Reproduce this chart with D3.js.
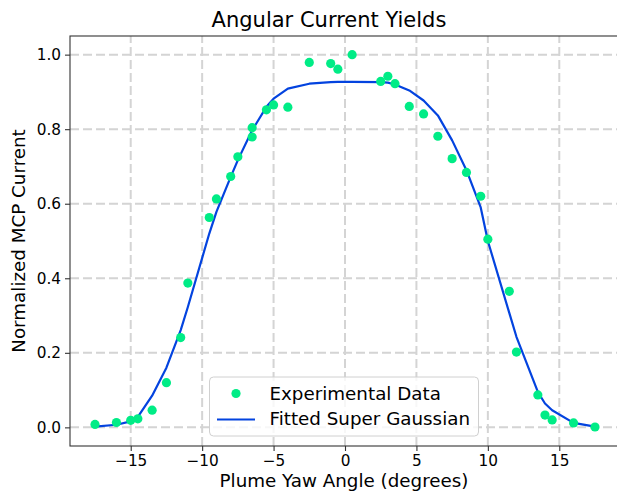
<!DOCTYPE html>
<html>
<head>
<meta charset="utf-8">
<script src="https://cdn.jsdelivr.net/npm/d3@7"></script>
<style>
    body { margin: 0; background: #fff; }
    text { font-family: "DejaVu Sans", sans-serif; fill: #000; }
</style>
</head>
<body>
<div id="chart-area"></div>
<script>

// measured points (yaw angle in degrees, normalized MCP current)
let angles = [-17.5, -16, -15, -14.5, -13.5, -12.5, -11.5, -11, -9.5, -9, -8, -7.5, -6.5, -6.5, -5.5, -5, -4,
    -2.5, -1, -0.5, 0.5, 2.5, 3, 3.5, 4.5, 5.5, 6.5, 7.5, 8.5, 9.5, 10, 11.5, 12, 13.5, 14, 14.5, 16, 17.5];
let currents = [0.008, 0.013, 0.019, 0.023, 0.046, 0.12, 0.241, 0.387, 0.563, 0.613, 0.673, 0.726, 0.804, 0.779, 0.852, 0.865, 0.859,
    0.979, 0.976, 0.961, 1.0, 0.928, 0.942, 0.922, 0.861, 0.841, 0.781, 0.721, 0.684, 0.62, 0.505, 0.365, 0.202, 0.087, 0.033, 0.020, 0.012, 0.001];

// fitted super gaussian at the same angles
let fitAngles = [-17.5, -16, -15, -14.5, -13.5, -12.5, -11.5, -11, -9.5, -9, -8, -7.5, -6.5, -5.5, -5, -4,
    -2.5, -1, -0.5, 0.5, 2.5, 3, 3.5, 4.5, 5.5, 6.5, 7.5, 8.5, 9.5, 10, 11.5, 12, 13.5, 14, 14.5, 16, 17.5];
let fitValues = [0.002, 0.007, 0.016, 0.028, 0.085, 0.16, 0.261, 0.323, 0.52, 0.578, 0.672, 0.717, 0.797, 0.860, 0.882, 0.909,
    0.922, 0.926, 0.927, 0.927, 0.926, 0.925, 0.920, 0.904, 0.877, 0.837, 0.770, 0.690, 0.59, 0.50, 0.307, 0.243, 0.095, 0.064, 0.046, 0.012, 0.002];

let xTicks = [-15, -10, -5, 0, 5, 10, 15];
let yTicks = [0.0, 0.2, 0.4, 0.6, 0.8, 1.0];

let legendLabels = ["Experimental Data", "Fitted Super Gaussian"];

let dotColor = "#00ec86";
let lineColor = "#0343df";

let width = 617, height = 495;

// axes box (right edge runs just past the window)
let margin = {top: 36, right: -3, bottom: 49, left: 70};

let svg = d3.select("#chart-area").append("svg")
    .attr("width", width)
    .attr("height", height);

let x = d3.scaleLinear()
    .domain([-19.25, 19.25])
    .range([margin.left, width - margin.right]);

let y = d3.scaleLinear()
    .domain([-0.05, 1.05])
    .range([height - margin.bottom, margin.top]);

// grid
let grid = svg.append("g").attr("class", "grid");
grid.selectAll("line.vgrid")
    .data(xTicks)
    .enter().append("line")
    .attr("x1", d => x(d)).attr("x2", d => x(d))
    .attr("y1", y.range()[0]).attr("y2", y.range()[1])
    .attr("stroke", "#d4d4d4")
    .attr("stroke-width", 2)
    .attr("stroke-dasharray", "9,4");
grid.selectAll("line.hgrid")
    .data(yTicks)
    .enter().append("line")
    .attr("x1", x.range()[0]).attr("x2", x.range()[1])
    .attr("y1", d => y(d)).attr("y2", d => y(d))
    .attr("stroke", "#d4d4d4")
    .attr("stroke-width", 2)
    .attr("stroke-dasharray", "9,4");

// fitted curve
let line = d3.line()
    .x((d, i) => x(fitAngles[i]))
    .y(d => y(d));

svg.append("path")
    .datum(fitValues)
    .attr("fill", "none")
    .attr("stroke", lineColor)
    .attr("stroke-width", 2.2)
    .attr("stroke-linejoin", "round")
    .attr("d", line);

// data points
svg.selectAll("circle.pt")
    .data(angles)
    .enter().append("circle")
    .attr("class", "pt")
    .attr("cx", d => x(d))
    .attr("cy", (d, i) => y(currents[i]))
    .attr("r", 4.6)
    .attr("fill", dotColor);

// axes
let xAxis = d3.axisBottom(x)
    .tickValues(xTicks)
    .tickSize(5)
    .tickPadding(4)
    .tickFormat(d => d < 0 ? "\u2212" + Math.abs(d) : d);

let yAxis = d3.axisLeft(y)
    .tickValues(yTicks)
    .tickSize(5)
    .tickPadding(4)
    .tickFormat(d3.format(".1f"));

svg.append("g")
    .attr("class", "x-axis")
    .attr("transform", "translate(0," + y.range()[0] + ")")
    .call(xAxis);

svg.append("g")
    .attr("class", "y-axis")
    .attr("transform", "translate(" + x.range()[0] + ",0)")
    .call(yAxis);

svg.selectAll(".x-axis .domain, .y-axis .domain").remove();
svg.selectAll(".tick line").attr("stroke", "#333").attr("stroke-width", 1.1);
svg.selectAll(".tick text")
    .style("font-family", "DejaVu Sans")
    .style("font-size", "15.3px")
    .attr("fill", "#000");

// spines
svg.append("rect")
    .attr("x", x.range()[0])
    .attr("y", y.range()[1])
    .attr("width", x.range()[1] - x.range()[0])
    .attr("height", y.range()[0] - y.range()[1])
    .attr("fill", "none")
    .attr("stroke", "#333")
    .attr("stroke-width", 1.1);

// title and labels
svg.append("text")
    .attr("x", 329)
    .attr("y", 27)
    .attr("text-anchor", "middle")
    .style("font-size", "21px")
    .text("Angular Current Yields");

svg.append("text")
    .attr("x", 344)
    .attr("y", 487)
    .attr("text-anchor", "middle")
    .style("font-size", "18.3px")
    .text("Plume Yaw Angle (degrees)");

svg.append("text")
    .attr("transform", "translate(25," + (y.range()[0] + y.range()[1]) / 2 + ") rotate(-90)")
    .attr("text-anchor", "middle")
    .style("font-size", "18.3px")
    .text("Normalized MCP Current");

// legend
let legend = svg.append("g").attr("class", "legend");
legend.append("rect")
    .attr("x", 209.5).attr("y", 377)
    .attr("width", 269).attr("height", 59)
    .attr("rx", 4)
    .attr("fill", "#fff").attr("fill-opacity", 0.8)
    .attr("stroke", "#d0d0d0");

legend.append("circle")
    .attr("cx", 236).attr("cy", 393.5)
    .attr("r", 4.6)
    .attr("fill", dotColor);

legend.append("line")
    .attr("x1", 217).attr("x2", 255)
    .attr("y1", 419.5).attr("y2", 419.5)
    .attr("stroke", lineColor)
    .attr("stroke-width", 2.2);

legend.selectAll("text.leg")
    .data(legendLabels)
    .enter().append("text")
    .attr("class", "leg")
    .attr("x", 269.5)
    .attr("y", (d, i) => 399.5 + i * 25.5)
    .style("font-size", "18.3px")
    .text(d => d);

</script>
</body>
</html>
